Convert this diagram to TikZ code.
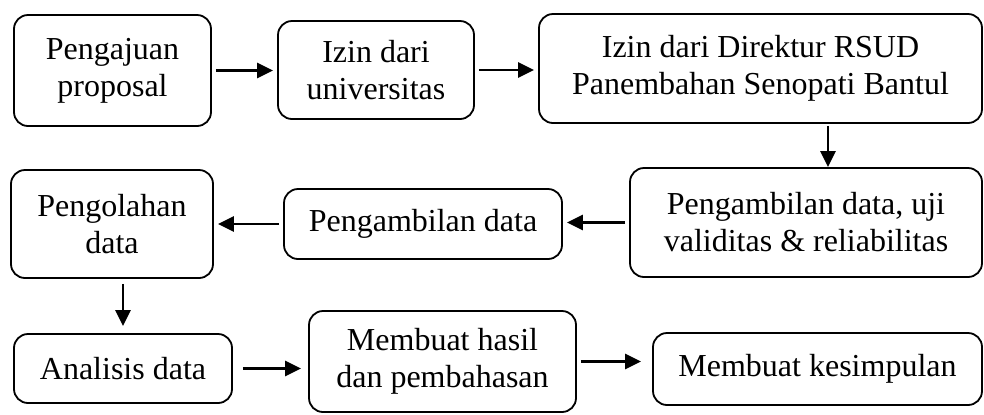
\documentclass[tikz,border=0pt]{standalone}
\usepackage{fontspec}
\setmainfont{Liberation Serif}
\usetikzlibrary{arrows.meta,positioning}

\begin{document}
\begin{tikzpicture}[
        x=0.5pt, y=-0.5pt,
        box/.style={draw, rounded corners=7pt, line width=0.9pt, align=center,
                    inner sep=0pt, font=\fontsize{16}{18.5}\selectfont},
        arr/.style={-{Triangle[length=8pt,width=7.5pt]}, line width=1.4pt,
                    shorten <=2pt, shorten >=2pt}
    ]
        \useasboundingbox (0,0) rectangle (984,414);

        \node[box, minimum width=98.5pt, minimum height=55.5pt] (proposal) at (112.5,70.5) {Pengajuan\\proposal};
        \node[box, minimum width=98pt,   minimum height=49pt]   (izinuniv) at (376,70)     {Izin dari\\universitas};
        \node[box, minimum width=221.5pt,minimum height=54.5pt] (izinrsud) at (760.5,68.5) {Izin dari Direktur RSUD\\Panembahan Senopati Bantul};
        \node[box, minimum width=176pt,  minimum height=54.5pt] (ujidata)  at (806,222.5)  {Pengambilan data, uji\\validitas \& reliabilitas};
        \node[box, minimum width=139pt,  minimum height=35pt]   (ambildata) at (423,224)   {Pengambilan data};
        \node[box, minimum width=101pt,  minimum height=54pt]   (olahdata) at (112,224)    {Pengolahan\\data};
        \node[box, minimum width=109pt,  minimum height=34.5pt] (analisis) at (123,368.5)  {Analisis data};
        \node[box, minimum width=133.5pt,minimum height=50.5pt] (hasil)    at (442.5,361.5) {Membuat hasil\\dan pembahasan};
        \node[box, minimum width=164.5pt,minimum height=36pt]   (simpulan) at (817.5,369)  {Membuat kesimpulan};

        \draw[arr] (proposal.east) -- (proposal.east -| izinuniv.west);
        \draw[arr] (izinuniv.east) -- (izinuniv.east -| izinrsud.west);
        \draw[arr, shorten <=1pt, shorten >=0pt] ([xshift=11pt]ujidata.north |- izinrsud.south) -- ([xshift=11pt]ujidata.north);
        \draw[arr] (ujidata.west) -- (ujidata.west -| ambildata.east);
        \draw[arr] (ambildata.west) -- (ambildata.west -| olahdata.east);
        \draw[arr, shorten <=2.5pt, shorten >=3.5pt] (olahdata.south -| analisis.north) -- (analisis.north);
        \draw[arr, shorten <=5pt, shorten >=3.5pt] (analisis.east) -- (analisis.east -| hasil.west);
        \draw[arr, shorten >=5.5pt] (hasil.east) -- (hasil.east -| simpulan.west);
    \end{tikzpicture}
\end{document}
